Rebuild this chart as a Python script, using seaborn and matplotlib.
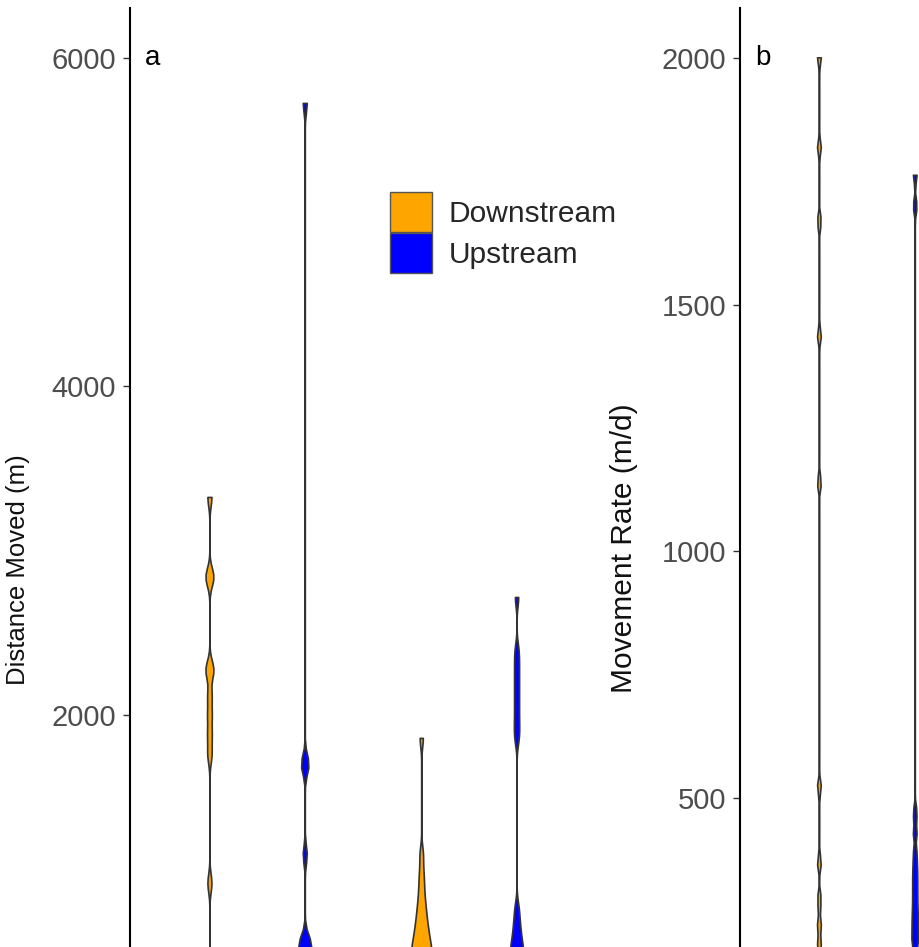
import matplotlib
matplotlib.use("Agg")
import matplotlib.pyplot as plt
import pandas as pd
import seaborn as sns

sns.set_theme(style="white")
plt.rcParams["font.family"] = ["Liberation Sans", "DejaVu Sans"]

periods = ["Period 1", "Period 2"]
directions = ["Downstream", "Upstream"]
palette = {"Downstream": "#FFA500", "Upstream": "#0000FF"}

# Distance moved (m) per fish, by period and direction
dist_p1_down = [3327, 2850, 2830, 2285, 2265, 2120, 2000, 1880, 1760, 977,
                4, 8, 12, 15, 19, 23, 27, 30, 34, 38, 42, 46, 50, 55, 60,
                64, 68, 72, 77, 82, 87, 92, 97, 103, 109, 115, 122, 130, 139, 148]
dist_p1_up = [5726, 1720, 1680, 1150, 640, 600, 570, 545,
              3, 7, 11, 14, 18, 22, 26, 31, 35, 39, 43, 47, 51, 56, 61,
              65, 69, 73, 78, 83, 88, 93, 98, 104, 110, 116, 123, 131, 140, 149]
dist_p2_down = [1860, 1150, 1040, 960, 890, 835, 790, 750, 715, 685, 655, 630,
                605, 585, 565, 545, 525, 505, 485, 465, 445, 425,
                5, 9, 13, 16, 20, 24, 28, 32, 36, 40, 44, 48, 52, 57, 62,
                66, 70, 74, 79, 84, 89, 94, 99, 105, 111, 117, 124, 132, 141, 150]
dist_p2_up = [2718, 2390, 2300, 2210, 2120, 2030, 1940, 1860, 820, 740, 680,
              630, 590, 560, 530, 500, 470,
              4, 8, 12, 15, 19, 23, 27, 31, 35, 39, 43, 47, 51, 56, 61,
              65, 69, 73, 78, 83, 88, 93, 98, 104, 110, 116, 123, 131, 140, 149]

# Movement rate (m/d) per fish, by period and direction
rate_p1_down = [2000, 1818, 1668, 1436, 1138, 522, 368, 293, 245, 205,
                0, 1, 2, 3, 4, 5, 6, 7, 8, 9, 10, 11, 12, 13, 14, 15,
                16, 17, 18, 19, 20, 21, 22, 23, 24, 25, 26, 27, 28, 29, 30, 31]
rate_p1_up = [1763, 1700, 470, 430, 385, 355, 330, 305, 280, 258, 238, 218, 200,
              0, 1, 2, 3, 4, 5, 6, 7, 8, 9, 10, 11, 12, 13, 14, 15, 16,
              17, 18, 19, 20, 21, 22, 23, 24, 25, 26, 27, 28, 29, 30, 31]


def long_table(groups, value_name):
    rows = []
    for (period, direction), values in groups.items():
        for v in values:
            rows.append({"Period": period, "Direction": direction, value_name: v})
    return pd.DataFrame(rows)


def fixed_bandwidth(h):
    """KDE bandwidth factor giving the same kernel width (in data units) for every group."""
    return lambda kde: h / kde.dataset.std(ddof=1)


dist_df = long_table({
    ("Period 1", "Downstream"): dist_p1_down,
    ("Period 1", "Upstream"): dist_p1_up,
    ("Period 2", "Downstream"): dist_p2_down,
    ("Period 2", "Upstream"): dist_p2_up,
}, "Distance")

rate_df = long_table({
    ("Period 1", "Downstream"): rate_p1_down,
    ("Period 1", "Upstream"): rate_p1_up,
}, "Rate")

W, H = 919, 947
fig = plt.figure(figsize=(W / 100, H / 100), dpi=100)
ax_a = fig.add_axes([130 / W, (H - 1093) / H, 466 / W, 1085 / H])
ax_b = fig.add_axes([740 / W, (H - 1093) / H, 466 / W, 1085 / H])

violin_kw = dict(x="Period", hue="Direction", order=periods, hue_order=directions,
                 palette=palette, inner=None, cut=0, density_norm="area",
                 width=0.9, linecolor="#333333", linewidth=1.2, saturation=1)

sns.violinplot(data=dist_df, y="Distance", ax=ax_a, bw_method=fixed_bandwidth(55),
               legend=True, **violin_kw)
sns.violinplot(data=rate_df, y="Rate", ax=ax_b, bw_method=fixed_bandwidth(14),
               legend=False, **violin_kw)

handles, labels = ax_a.get_legend_handles_labels()
for h in handles:
    h.set_edgecolor("#555555")
    h.set_linewidth(1.0)
ax_a.legend(handles, labels, loc="upper left", bbox_to_anchor=(0.558, 0.830),
            frameon=False, fontsize=21.5, handlelength=1.4, handleheight=1.68,
            labelspacing=0.02, handletextpad=0.55, borderaxespad=0, borderpad=0)

for ax, lim, ticks, label, lsize, coords, tag in [
    (ax_a, (-302, 6304), [2000, 4000, 6000], "Distance Moved (m)", 18.5,
     (-0.215, 0.482), "a"),
    (ax_b, (-98, 2101), [500, 1000, 1500, 2000], "Movement Rate (m/d)", 21.5,
     (-0.219, 0.502), "b"),
]:
    ax.set_xlim(-0.6, 1.6)
    ax.set_ylim(*lim)
    ax.set_yticks(ticks)
    ax.set_yticklabels([str(t) for t in ticks])
    ax.set_xticks([])
    ax.set_xlabel("")
    ax.set_ylabel(label, fontsize=lsize, color="#111111")
    ax.yaxis.set_label_coords(*coords)
    for side in ["top", "right", "bottom"]:
        ax.spines[side].set_visible(False)
    ax.spines["left"].set_color("black")
    ax.spines["left"].set_linewidth(1.5)
    ax.tick_params(axis="y", left=True, length=5, width=1, color="#333333",
                   labelsize=21, labelcolor="#4D4D4D", pad=5)
    ax.text(-0.53, ticks[-1], tag, fontsize=20, color="black", ha="left", va="center")

fig.savefig("out.png", dpi=100, facecolor="white")
